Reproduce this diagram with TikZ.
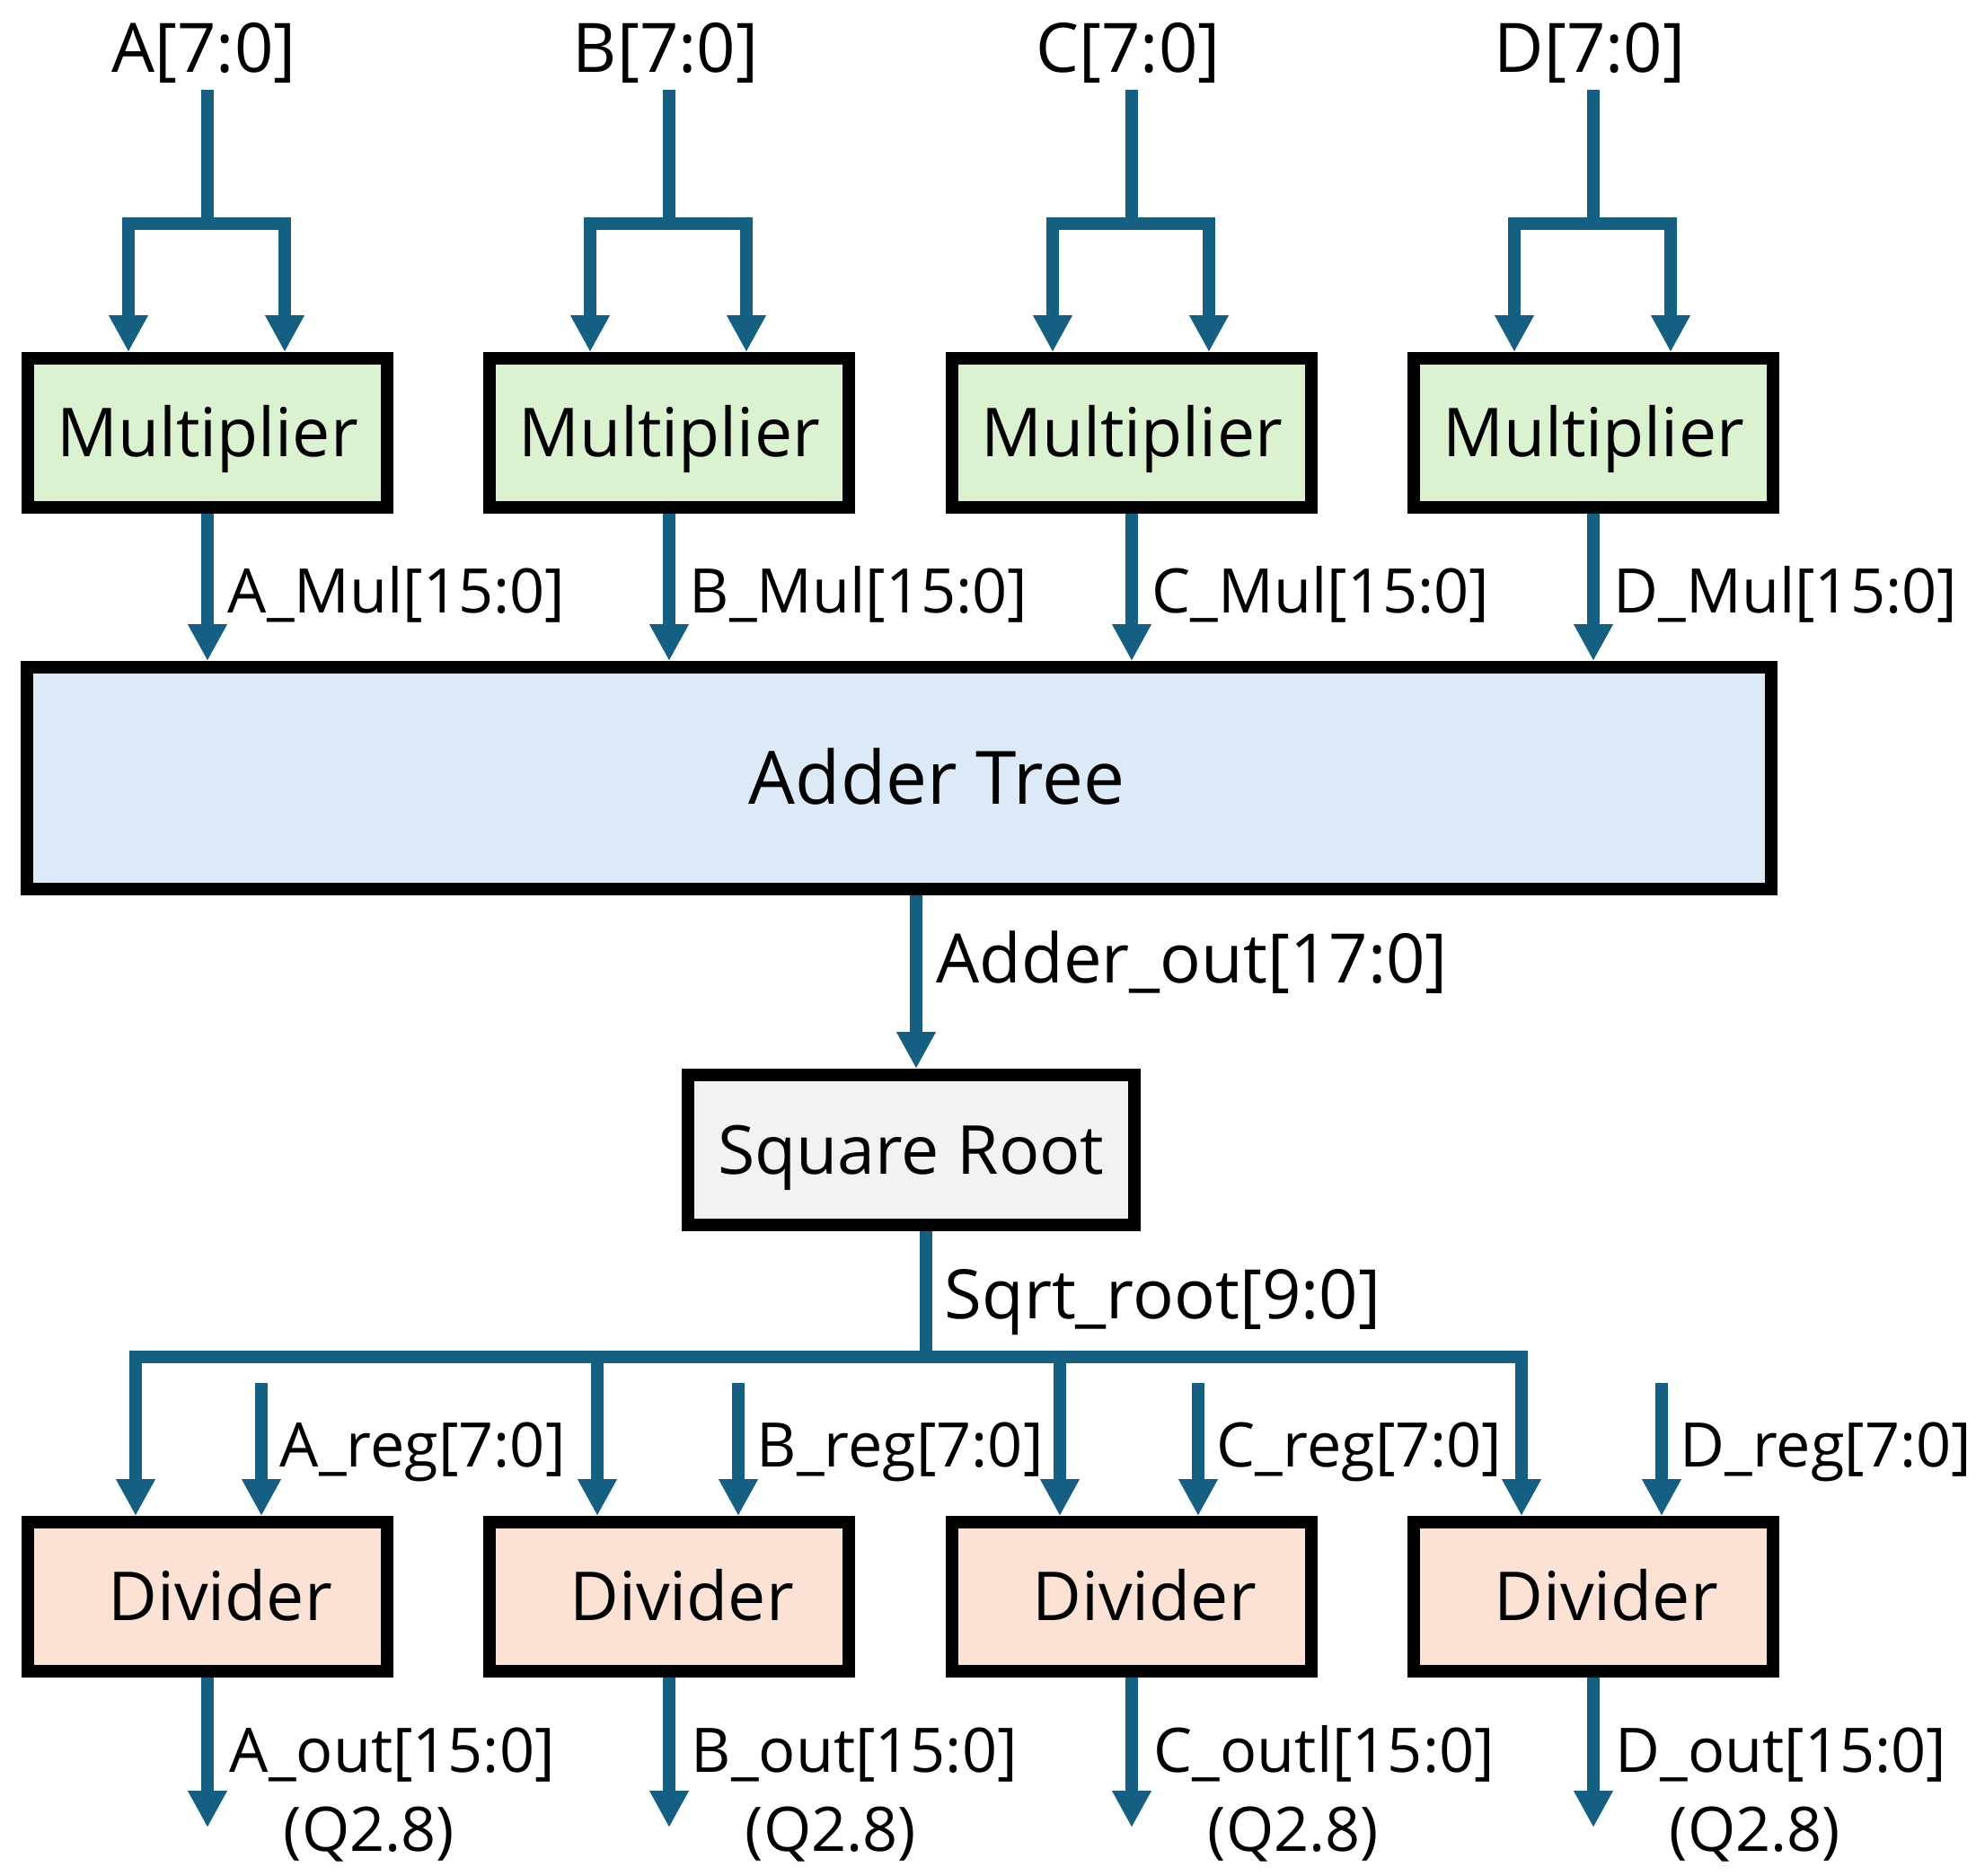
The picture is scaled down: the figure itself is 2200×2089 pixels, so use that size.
\documentclass[tikz,border=0pt]{standalone}
\usepackage{fontspec}
\setmainfont{Open Sans}
\usetikzlibrary{positioning,calc,arrows.meta}
\definecolor{wireblue}{HTML}{156082}
\definecolor{mulgreen}{HTML}{DAF2D0}
\definecolor{addblue}{HTML}{DCEAF7}
\definecolor{divpeach}{HTML}{FBE2D5}
\definecolor{sqgray}{HTML}{F2F2F2}

\begin{document}
\begin{tikzpicture}[x=0.25pt,y=-0.25pt]
    \tikzset{
      wire/.style={color=wireblue, line width=3.35pt},
      arr/.style={wire, -{Triangle[width=10.25pt,length=10.25pt]}},
      blk/.style={draw=black, line width=3.5pt, minimum width=100pt, minimum height=41.5pt,
                  inner sep=0pt, text height=13.4pt, text depth=0pt, font={\fontsize{18.8}{22}\selectfont}},
      mulbox/.style={blk, fill=mulgreen},
      divbox/.style={blk, fill=divpeach},
      sig/.style={anchor=base west, inner sep=0pt, font={\fontsize{17.1}{20}\selectfont}},
      bigsig/.style={sig, font={\fontsize{19}{22}\selectfont}}
    }
    \useasboundingbox (0,0) rectangle (2200,2089);
    % Adder tree and square root
    \node[blk, fill=addblue, minimum width=485.5pt, minimum height=61.75pt, text height=14.6pt,
          font={\fontsize{20.5}{24}\selectfont}] (adder) at (1001,866.5) {\hspace*{21pt}Adder Tree};
    \node[blk, fill=sqgray, minimum width=124.25pt, minimum height=41.75pt] (sqroot) at (1014.5,1280.5) {Square Root};
    \coordinate (sqin) at ($(sqroot.north)+(5.5,0)$);
    \draw[arr] (adder.south -| sqin) -- (sqin);
    \node[bigsig] (addsig) at (1042,1094) {Adder\_out[17:0]};
    % Bus to the dividers
    \coordinate (busjoin) at (1031,1511);
    \draw[wire] (busjoin |- sqroot.south) -- (busjoin);
    \node[bigsig] (sqsig) at (1051,1468) {Sqrt\_root[9:0]};
    % One column per input
    \foreach \ch/\cx/\rx/\outtxt in {A/231/291/A\_out, B/745/822/B\_out, C/1260/1334/C\_outl, D/1774/1850/D\_out} {
      \node[bigsig, anchor=base] (in\ch) at (\cx-4,80) {\ch[7:0]};
      \node[mulbox] (mul\ch) at (\cx,482) {Multiplier};
      \coordinate (fork\ch) at (\cx,249);
      \draw[wire, shorten <=1.75pt] (in\ch.south -| fork\ch) -- (fork\ch);
      \draw[arr] (fork\ch) -| ($(mul\ch.north)+(-88,0)$);
      \draw[arr] (fork\ch) -| ($(mul\ch.north)+(86,0)$);
      \draw[arr] (mul\ch.south) -- (mul\ch.south |- adder.north);
      \node[sig] (mulsig\ch) at (\cx+22,682) {\ch\_Mul[15:0]};
      % divider
      \node[divbox] (div\ch) at (\cx,1778) {\hspace*{7pt}Divider};
      \draw[arr] (busjoin) -| ($(div\ch.north)+(-80,0)$);
      \coordinate (regin\ch) at (\rx,1540);
      \draw[arr] (regin\ch) -- (regin\ch |- div\ch.north);
      \node[sig] (regsig\ch) at (\rx+20,1633) {\ch\_reg[7:0]};
      \coordinate (out\ch) at (\cx,2035);
      \draw[arr] (div\ch.south) -- (out\ch);
      \node[sig] (outsig\ch) at (\cx+24,1973) {\outtxt[15:0]};
      \node[sig] (qfmt\ch) at (\cx+84,2061) {(Q2.8)};
    }
\end{tikzpicture}
\end{document}
